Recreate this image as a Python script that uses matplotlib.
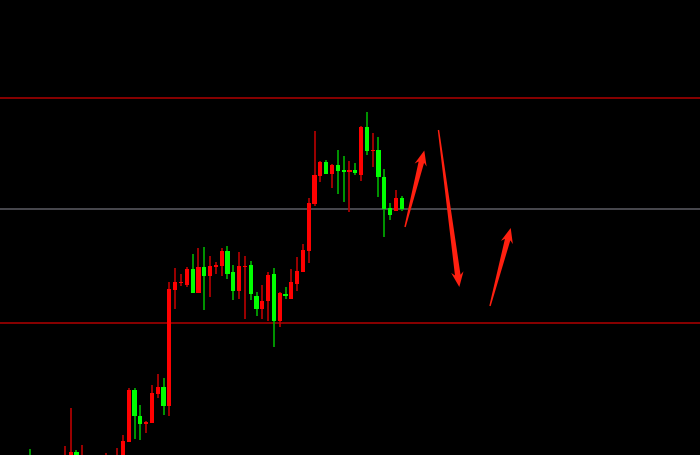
import matplotlib
matplotlib.use("Agg")
import matplotlib.pyplot as plt
from matplotlib.patches import Polygon
import numpy as np

# OHLC values (price units), one entry per candle; red = up (close > open), green = down
opens = [-3, -18, -8, -22, -12, -26, -20, -12, 3, -14, -3, -18, -8, -16, -4,
         -14, -6, 13.3, 65.3, 39.3, 31, 32, 61, 68.3, 49.3, 165.3, 172, 170, 186, 162,
         187.7, 179.3, 188.3, 189.3, 203.7, 182.7, 164.3, 188.2, 190, 159.3, 146, 154.3, 181, 134.3, 161,
         156, 171, 183, 204.3, 251, 278.7, 293.3, 281, 290, 285, 283.5, 285, 280.3, 327.7, 304,
         305, 277.7, 247, 243.7, 256.7]
highs = [6, -2, -4, -6, -9, -6, 9, 47.3, 5, 10, -1, -4, -5, 2, -2,
         7.3, 20, 66.7, 66.7, 50, 34.3, 70.3, 81, 77, 173.3, 186.7, 181, 187.7, 201, 206.7,
         207.7, 198.7, 192.7, 206.7, 208.7, 190, 202.7, 199.3, 193.7, 162.7, 170, 183.3, 186.7, 162.7, 167.7,
         186, 198.3, 211, 256.7, 324.3, 294.3, 295.3, 291, 305.3, 299.3, 294.3, 291.7, 329.3, 342.7, 321.7,
         318.3, 286, 251.7, 265, 259.3]
lows = [-20, -22, -26, -28, -30, -30, -24, -16, -14, -18, -20, -22, -24, -20, -18,
        -18, -10, 13, 16, 15.3, 22, 32, 56.7, 40, 39, 146, 169.3, 167.7, 162, 162,
        145.3, 157.7, 181, 178.7, 176, 155.3, 156, 136, 155.3, 139.3, 136, 134.3, 107.7, 127.7, 156,
        156, 164.3, 183, 192, 249.3, 273.3, 281, 266.7, 261, 252.7, 242.7, 280.3, 274.3, 300.3, 288.3,
        257.7, 217.7, 235, 243.7, 243.7]
closes = [-15, -8, -20, -12, -24, -14, -5, 3, -10, -3, -16, -8, -18, -4, -14,
          -2, 14.3, 65.3, 38.7, 30.7, 32.7, 62, 68.3, 49.3, 166, 172.7, 173.3, 186, 162, 187.7,
          179.3, 188.7, 190.3, 203.7, 181, 164.3, 188.7, 189.2, 161, 146, 154.3, 180.3, 134.3, 162, 158.7,
          172.7, 183.7, 205, 252, 280, 293.3, 281, 290, 283.7, 283.5, 285, 282, 327.7, 304.3, 305.3,
          277.7, 246, 240.3, 256.7, 246]

# horizontal reference levels
level_red = [357.3, 132.5]
level_gray = [246.3]

# arrow annotations: (candle index, price) for tail and tip
arrow_tails = [(64.57, 228.0), (70.33, 325.0), (79.2, 149.0)]
arrow_tips = [(67.89, 304.5), (73.92, 168.0), (82.77, 227.0)]

UP_BODY, UP_WICK = "#ff0000", "#b80000"
DN_BODY, DN_WICK = "#00ff00", "#00b000"

fig = plt.figure(figsize=(7, 4.56), dpi=100, facecolor="black")
ax = fig.add_axes([0, 0, 1, 1])
ax.set_facecolor("black")
ax.set_xlim(-5.165, 115.36)
ax.set_ylim(0, 456)
ax.axis("off")

for lv in level_red:
    ax.axhline(lv, color="#a00000", lw=1.2, zorder=1)
for lv in level_gray:
    ax.axhline(lv, color="#55555c", lw=1.2, zorder=1)

o = np.array(opens, float)
h = np.array(highs, float)
l = np.array(lows, float)
c = np.array(closes, float)
x = np.arange(len(o))
up = c >= o

ax.vlines(x[up], l[up], h[up], color=UP_WICK, lw=1.2, zorder=2)
ax.vlines(x[~up], l[~up], h[~up], color=DN_WICK, lw=1.2, zorder=2)

bottom = np.minimum(o, c)
height = np.maximum(np.abs(c - o), 1.3)
ax.bar(x[up], height[up], bottom=bottom[up], width=0.72, color=UP_BODY, zorder=3, linewidth=0)
ax.bar(x[~up], height[~up], bottom=bottom[~up], width=0.72, color=DN_BODY, zorder=3, linewidth=0)

fig.canvas.draw()


def arrow_poly(tail, tip):
    t = np.array(ax.transData.transform(tail))
    p = np.array(ax.transData.transform(tip))
    d = p - t
    L = np.hypot(*d)
    u = d / L
    n = np.array([-u[1], u[0]])
    head_len = 12.0
    join = p - u * head_len
    barb = p - u * (head_len + 3.0)
    pts = [t + n * 0.7, join + n * 2.8, barb + n * 6.2, p,
           barb - n * 6.2, join - n * 2.8, t - n * 0.7]
    return pts


for tl, tp in zip(arrow_tails, arrow_tips):
    poly = Polygon(arrow_poly(tl, tp), closed=True, facecolor="#ff2010",
                   edgecolor="none", transform=None, zorder=5)
    fig.add_artist(poly)

fig.savefig("out.png", dpi=100, facecolor="black")
